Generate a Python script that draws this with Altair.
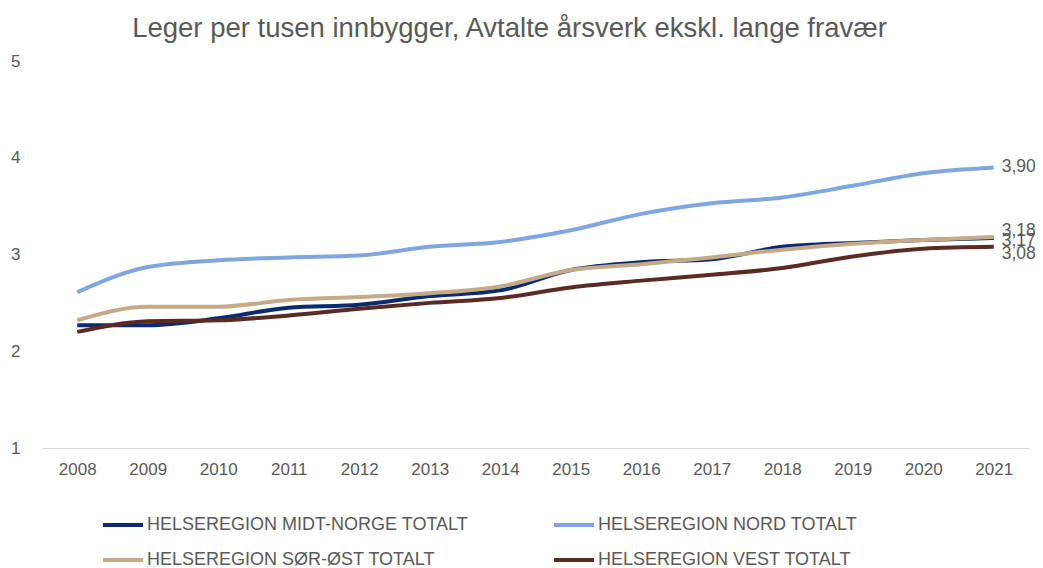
import altair as alt
import pandas as pd

years = list(range(2008, 2022))
series_names = [
    "HELSEREGION MIDT-NORGE TOTALT",
    "HELSEREGION NORD TOTALT",
    "HELSEREGION SØR-ØST TOTALT",
    "HELSEREGION VEST TOTALT",
]
midt_norge = [2.27, 2.27, 2.34, 2.45, 2.48, 2.57, 2.63, 2.84, 2.92, 2.95, 3.08, 3.12, 3.15, 3.17]
nord = [2.61, 2.87, 2.94, 2.97, 2.99, 3.08, 3.13, 3.25, 3.42, 3.53, 3.59, 3.71, 3.84, 3.90]
sor_ost = [2.32, 2.46, 2.46, 2.53, 2.56, 2.60, 2.67, 2.84, 2.90, 2.97, 3.05, 3.11, 3.15, 3.18]
vest = [2.20, 2.31, 2.32, 2.37, 2.44, 2.50, 2.55, 2.66, 2.73, 2.79, 2.86, 2.98, 3.06, 3.08]
y_ticks = [1, 2, 3, 4, 5]
title_text = "Leger per tusen innbygger, Avtalte årsverk ekskl. lange fravær"

colors = ["#0B2A6F", "#7FA6E0", "#C4AA87", "#5B2A22"]
# vertical nudges (px) for end labels so they do not overlap
label_dy = [3, 0, -6, 7]
# legend fills column by column: Midt, Sør-Øst | Nord, Vest
legend_order = [series_names[0], series_names[2], series_names[1], series_names[3]]
legend_colors = [colors[0], colors[2], colors[1], colors[3]]

values = [midt_norge, nord, sor_ost, vest]
rows = []
for name, vals in zip(series_names, values):
    for yr, v in zip(years, vals):
        rows.append({"year": str(yr), "value": v, "series": name})
df = pd.DataFrame(rows)

FONT = "Liberation Sans"
GREY = "#595959"

x_enc = alt.X(
    "year:O",
    scale=alt.Scale(type="point", padding=0.5),
    axis=alt.Axis(
        title=None, labelAngle=0, ticks=False, domainColor="#D9D9D9", domainWidth=1,
        labelFontSize=17, labelColor=GREY, labelFont=FONT, labelPadding=13, grid=False,
    ),
)
y_enc = alt.Y(
    "value:Q",
    scale=alt.Scale(domain=[1, 5], nice=False, zero=False),
    axis=alt.Axis(
        title=None, values=y_ticks, format="d", ticks=False, domain=False, grid=False,
        labelFontSize=17, labelColor=GREY, labelFont=FONT, labelPadding=22,
    ),
)
color_enc = alt.Color(
    "series:N",
    scale=alt.Scale(domain=legend_order, range=legend_colors),
    sort=legend_order,
    legend=alt.Legend(
        title=None, orient="none", legendX=59, legendY=442, columns=2,
        symbolType="stroke", symbolSize=1600, symbolStrokeWidth=4,
        labelFontSize=18, labelColor=GREY, labelFont=FONT, labelOffset=2,
        columnPadding=77, rowPadding=4, labelLimit=420,
    ),
)

lines = alt.Chart(df).mark_line(strokeWidth=4, interpolate="monotone").encode(
    x=x_enc, y=y_enc, color=color_enc
)

layers = [lines]
for name, vals, dy in zip(series_names, values, label_dy):
    lab = pd.DataFrame({"year": [str(years[-1])], "value": [vals[-1]],
                        "label": [f"{vals[-1]:.2f}".replace(".", ",")]})
    layers.append(
        alt.Chart(lab).mark_text(align="left", baseline="middle", dx=8, dy=dy,
                                 fontSize=17.5, font=FONT, color=GREY)
        .encode(x=alt.X("year:O"), y=alt.Y("value:Q"), text="label:N")
    )

chart = alt.layer(*layers).properties(
    width=987, height=387,
    background="white",
    title=alt.Title(title_text, fontSize=27.5, font=FONT, color=GREY, fontWeight="normal",
                    anchor="middle", dx=-26, offset=10),
    autosize=alt.AutoSizeParams(type="none"),
    padding={"left": 34, "top": 53, "right": 6, "bottom": 120},
).configure_view(stroke="transparent", strokeWidth=0)

chart.save("out.html", embed_options={"renderer": "svg", "actions": False})
